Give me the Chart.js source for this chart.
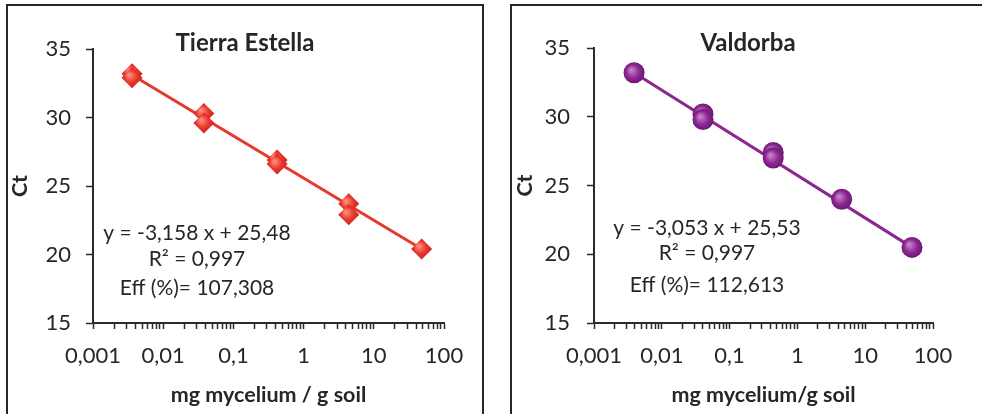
<!DOCTYPE html>
<html>
<head>
<meta charset="utf-8">
<script src="https://cdn.jsdelivr.net/npm/chart.js@4.4.0/dist/chart.umd.min.js"></script>
<style>
body { margin: 0; width: 982px; height: 414px; overflow: hidden; background: #fff; position: relative; }
.frame { position: absolute; border: 2px solid #262626; box-sizing: border-box; }
.box { position: absolute; top: 0; height: 414px; }
</style>
</head>
<body>
<div class="frame" style="left:6px; top:4px; width:478px; height:440px;"></div>
<div class="frame" style="left:510px; top:4px; width:490px; height:440px;"></div>
<div class="box" style="left:0; width:490px;"><canvas id="chart_tierra"></canvas></div>
<div class="box" style="left:490px; width:492px;"><canvas id="chart_valdorba"></canvas></div>
<script>
// axis ticks
const decadeTicks = [0.001, 0.01, 0.1, 1, 10, 100];
const decadeLabels = ['0,001', '0,01', '0,1', '1', '10', '100'];
const minorSteps = [2, 3, 4, 5, 6, 7, 8, 9];
const ctTicks = [15, 20, 25, 30, 35];

// Tierra Estella (mg mycelium / g soil vs Ct)
const tierraConc = [0.0036, 0.0036, 0.038, 0.038, 0.42, 0.42, 4.4, 4.4, 48];
const tierraCt = [33.2, 32.9, 30.3, 29.6, 26.9, 26.6, 23.7, 22.9, 20.4];
const tierraFitConc = [0.0036, 48];
const tierraFitCt = [33.1, 20.4];
const tierraText = ['y = -3,158 x + 25,48', 'R\u00b2 = 0,997', 'Eff (%)= 107,308'];

// Valdorba
const valdorbaConc = [0.0039, 0.0405, 0.0405, 0.44, 0.44, 4.5, 49];
const valdorbaCt = [33.2, 30.2, 29.8, 27.4, 27.0, 24.0, 20.5];
const valdorbaFitConc = [0.0039, 49];
const valdorbaFitCt = [33.2, 20.5];
const valdorbaText = ['y = -3,053 x + 25,53', 'R\u00b2 = 0,997', 'Eff (%)= 112,613'];

const FONT = "Lato, 'Open Sans', sans-serif";
const TEXT_COLOR = '#262626';
const AXIS_COLOR = '#2b2b2b';

let to_points = (xs, ys) => xs.map((x, i) => ({x: x, y: ys[i]}));

// shaded marker like the excel bevel
function marker_fill(colors) {
    return function(context) {
        const chart = context.chart;
        if (!context.raw || !chart.scales.x) return colors[1];
        const px = chart.scales.x.getPixelForValue(context.raw.x);
        const py = chart.scales.y.getPixelForValue(context.raw.y);
        if (!isFinite(px) || !isFinite(py)) return colors[1];
        const g = chart.ctx.createRadialGradient(px - 3, py - 3, 1, px, py, 11);
        g.addColorStop(0, colors[0]);
        g.addColorStop(0.55, colors[1]);
        g.addColorStop(1, colors[2]);
        return g;
    };
}

const panel_text = {
    id: 'panel_text',
    afterDraw(chart, args, opts) {
        const ctx = chart.ctx;
        ctx.save();
        ctx.textAlign = 'center';
        ctx.textBaseline = 'middle';
        ctx.fillStyle = TEXT_COLOR;
        ctx.font = 'bold 24px ' + FONT;
        ctx.fillText(opts.title, opts.titleX, opts.titleY);
        ctx.font = '21px ' + FONT;
        opts.lines.forEach((line, i) => ctx.fillText(line, opts.lineX, opts.lineY[i]));
        ctx.restore();
    }
};

function make_chart(id, cfg) {
    const ctx = document.getElementById(id).getContext('2d');
    return new Chart(ctx, {
        type: 'scatter',
        data: {
            datasets: [{
                label: cfg.title,
                data: to_points(cfg.conc, cfg.ct),
                pointStyle: cfg.pointStyle,
                pointRadius: cfg.radius,
                pointHoverRadius: cfg.radius,
                pointBorderWidth: 0,
                backgroundColor: marker_fill(cfg.shades),
                order: 0
            }, {
                type: 'line',
                label: 'fit',
                data: to_points(cfg.fitConc, cfg.fitCt),
                borderColor: cfg.lineColor,
                borderWidth: 3,
                pointRadius: 0,
                fill: false,
                order: 1
            }]
        },
        options: {
            responsive: true,
            maintainAspectRatio: false,
            animation: false,
            layout: {
                padding: {left: 0, top: cfg.top, right: cfg.right, bottom: 0}
            },
            plugins: {
                legend: {display: false},
                tooltip: {enabled: false},
                panel_text: {
                    title: cfg.title,
                    titleX: cfg.titleX,
                    titleY: 43,
                    lines: cfg.text,
                    lineX: cfg.textX,
                    lineY: cfg.textY
                }
            },
            scales: {
                x: {
                    type: 'logarithmic',
                    min: 0.001,
                    max: 100,
                    afterBuildTicks: function(scale) {
                        let ticks = [];
                        decadeTicks.slice(0, -1).forEach(d => {
                            ticks.push({value: d});
                            minorSteps.forEach(k => ticks.push({value: d * k}));
                        });
                        ticks.push({value: decadeTicks[decadeTicks.length - 1]});
                        scale.ticks = ticks;
                    },
                    afterFit: function(scale) { scale.height = 91; },
                    ticks: {
                        autoSkip: false,
                        maxRotation: 0,
                        padding: 14,
                        color: TEXT_COLOR,
                        font: {family: FONT, size: 22},
                        callback: function(value) {
                            const i = decadeTicks.findIndex(d => Math.abs(d - value) < d * 1e-6);
                            return i >= 0 ? decadeLabels[i] : '';
                        }
                    },
                    grid: {
                        drawOnChartArea: false,
                        drawTicks: true,
                        tickLength: 6,
                        tickColor: AXIS_COLOR,
                        tickWidth: 1.5
                    },
                    border: {display: true, color: AXIS_COLOR, width: 2},
                    title: {
                        display: true,
                        text: cfg.xTitle,
                        color: TEXT_COLOR,
                        font: {family: FONT, size: 21.5, weight: 'bold'},
                        padding: {top: 0, bottom: 6}
                    }
                },
                y: {
                    min: 15,
                    max: 35,
                    afterBuildTicks: function(scale) {
                        scale.ticks = ctTicks.map(v => ({value: v}));
                    },
                    afterFit: function(scale) { scale.width = cfg.yWidth; },
                    ticks: {
                        padding: cfg.yPad,
                        color: TEXT_COLOR,
                        font: {family: FONT, size: 22}
                    },
                    grid: {
                        drawOnChartArea: false,
                        drawTicks: true,
                        tickLength: 7,
                        tickColor: AXIS_COLOR,
                        tickWidth: 1.5
                    },
                    border: {display: true, color: AXIS_COLOR, width: 2},
                    title: {
                        display: true,
                        text: 'Ct',
                        color: TEXT_COLOR,
                        font: {family: FONT, size: 21.5, weight: 'bold'},
                        padding: {top: cfg.ctPad, bottom: 0}
                    }
                }
            }
        },
        plugins: [panel_text]
    });
}

make_chart('chart_tierra', {
    title: 'Tierra Estella',
    conc: tierraConc, ct: tierraCt,
    fitConc: tierraFitConc, fitCt: tierraFitCt,
    text: tierraText,
    pointStyle: 'rectRot',
    radius: 10.5,
    shades: ['#ff8a7a', '#e8342a', '#c0241c'],
    lineColor: '#e8382c',
    xTitle: 'mg mycelium / g soil',
    top: 49, right: 46, yWidth: 93, yPad: 15, ctPad: 7,
    titleX: 245, textX: 197, textY: [233, 259, 288]
});

make_chart('chart_valdorba', {
    title: 'Valdorba',
    conc: valdorbaConc, ct: valdorbaCt,
    fitConc: valdorbaFitConc, fitCt: valdorbaFitCt,
    text: valdorbaText,
    pointStyle: 'circle',
    radius: 10.5,
    shades: ['#c77ccb', '#8e2a92', '#661670'],
    lineColor: '#8b2790',
    xTitle: 'mg mycelium/g soil',
    top: 48, right: 49, yWidth: 104, yPad: 17, ctPad: 22,
    titleX: 258, textX: 217, textY: [228, 253, 285]
});
</script>
</body>
</html>
